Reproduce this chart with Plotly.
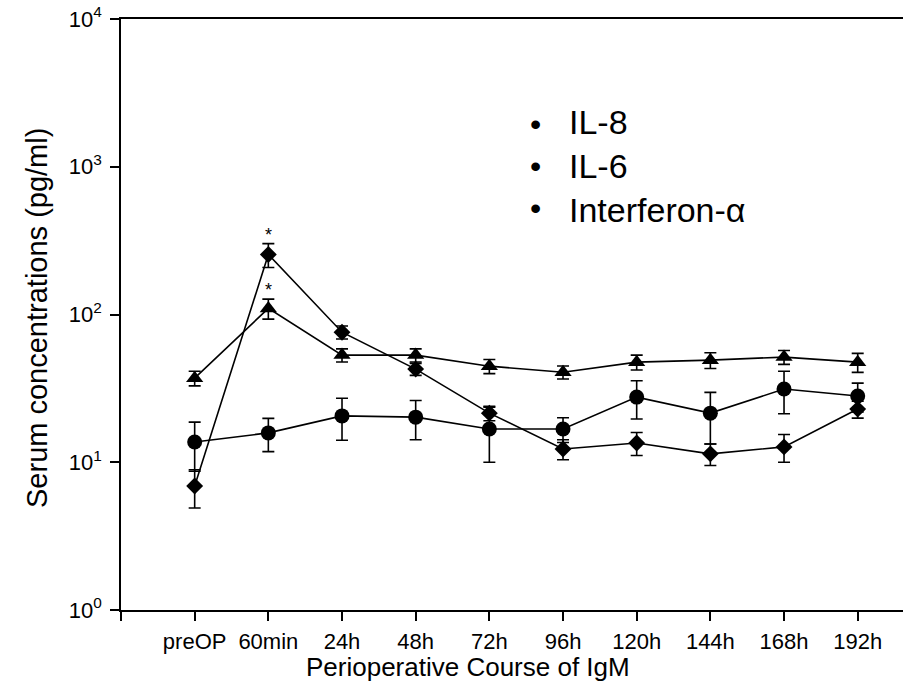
import numpy as np
import plotly.graph_objects as go

categories = ["preOP", "60min", "24h", "48h", "72h", "96h", "120h", "144h", "168h", "192h"]

il8_mean = [37.1, 110, 53.1, 53.1, 44.7, 40.7, 47.6, 49.1, 51.5, 47.6]
il8_err = [4.2, 17, 5.4, 5.4, 4.9, 4.1, 5.5, 6.0, 5.5, 7.0]

il6_mean = [13.7, 15.8, 20.6, 20.2, 16.8, 16.8, 27.6, 21.5, 31.3, 28.1]
il6_err = [5.0, 4.0, 6.5, 6.0, 6.8, 3.2, 8.0, 8.2, 10.0, 6.2]

ifn_mean = [6.9, 255, 75.9, 42.7, 21.5, 12.3, 13.5, 11.4, 12.7, 22.9]
ifn_err = [2.0, 47, 7.7, 4.0, 2.4, 1.9, 2.4, 1.9, 2.7, 3.0]

legend_labels = ["IL-8", "IL-6", "Interferon-α"]

y_tickvals = [1, 10, 100, 1000, 10000]
y_ticktext = ["10<sup>0</sup>", "10<sup>1</sup>", "10<sup>2</sup>", "10<sup>3</sup>", "10<sup>4</sup>"]

x = list(range(len(categories)))
FONT = "Liberation Sans, Arial, sans-serif"

# page body margin is removed by the post script, so the figure fills the window
W, H = 903, 682
L, T, R, B = 121, 19, 0, 72
PW, PH = W - L - R, H - T - B


def px_x(px):
    return (px - L) / PW


def px_y(py):
    return (H - B - py) / PH


fig = go.Figure()


def add_series(mean, err, symbol, size, name):
    fig.add_trace(go.Scatter(
        x=x, y=mean, name=name, mode="lines+markers",
        line=dict(color="black", width=1.6),
        marker=dict(symbol=symbol, size=size, color="black"),
        error_y=dict(type="data", array=err, visible=True, color="black",
                     thickness=1.6, width=6),
        showlegend=False,
    ))


add_series(il6_mean, il6_err, "circle", 15, legend_labels[1])
add_series(il8_mean, il8_err, "triangle-up", 15, legend_labels[0])
add_series(ifn_mean, ifn_err, "diamond", 13, legend_labels[2])

annotations = []
i60 = categories.index("60min")
for mean, err in [(ifn_mean, ifn_err), (il8_mean, il8_err)]:
    annotations.append(dict(
        x=i60, y=float(np.log10(mean[i60] + err[i60])), xref="x", yref="y",
        text="*", showarrow=False, yanchor="bottom", yshift=-3,
        font=dict(family=FONT, size=18, color="black")))

row_y = [124, 166, 208]
for ry in row_y:
    annotations.append(dict(
        x=px_x(535), y=px_y(ry), xref="paper", yref="paper",
        text="•", showarrow=False, xanchor="center", yanchor="middle",
        font=dict(family=FONT, size=32, color="black")))
annotations.append(dict(
    x=px_x(567), y=px_y(166), xref="paper", yref="paper",
    text="<br>".join(legend_labels), showarrow=False, xanchor="left", yanchor="middle",
    align="left", font=dict(family=FONT, size=34, color="black")))

annotations.append(dict(
    x=px_x(468), y=px_y(667), xref="paper", yref="paper",
    text="Perioperative Course of IgM", showarrow=False, xanchor="center", yanchor="middle",
    font=dict(family=FONT, size=26, color="black")))
annotations.append(dict(
    x=px_x(37), y=px_y(318), xref="paper", yref="paper",
    text="Serum concentrations (pg/ml)", showarrow=False, textangle=-90,
    xanchor="center", yanchor="middle",
    font=dict(family=FONT, size=29, color="black")))

fig.update_layout(
    width=W, height=H,
    margin=dict(l=L, r=R, t=T, b=B, autoexpand=False),
    paper_bgcolor="white", plot_bgcolor="white",
    font=dict(family=FONT, color="black"),
    annotations=annotations,
    hovermode=False,
    xaxis=dict(
        range=[-1, -1 + PW / 73.67],
        tickvals=[-1] + x, ticktext=[""] + categories,
        ticks="outside", ticklen=9, tickwidth=1.5, tickcolor="black",
        showline=True, linewidth=1.5, linecolor="black", mirror=True,
        showgrid=False, zeroline=False, ticklabelstandoff=2, automargin=False,
        tickfont=dict(family=FONT, size=22, color="black"),
    ),
    yaxis=dict(
        type="log", range=[0, 4],
        tickvals=y_tickvals, ticktext=y_ticktext,
        ticks="outside", ticklen=9, tickwidth=1.5, tickcolor="black",
        showline=True, linewidth=1.5, linecolor="black", mirror=False,
        showgrid=False, zeroline=False, ticklabelstandoff=4,
        ticklabeloverflow="allow", automargin=False,
        tickfont=dict(family=FONT, size=22, color="black"),
    ),
)

fig.write_html(
    "out.html",
    config={"displayModeBar": False},
    post_script="document.body.style.margin='0px';document.body.style.overflow='hidden';",
)
